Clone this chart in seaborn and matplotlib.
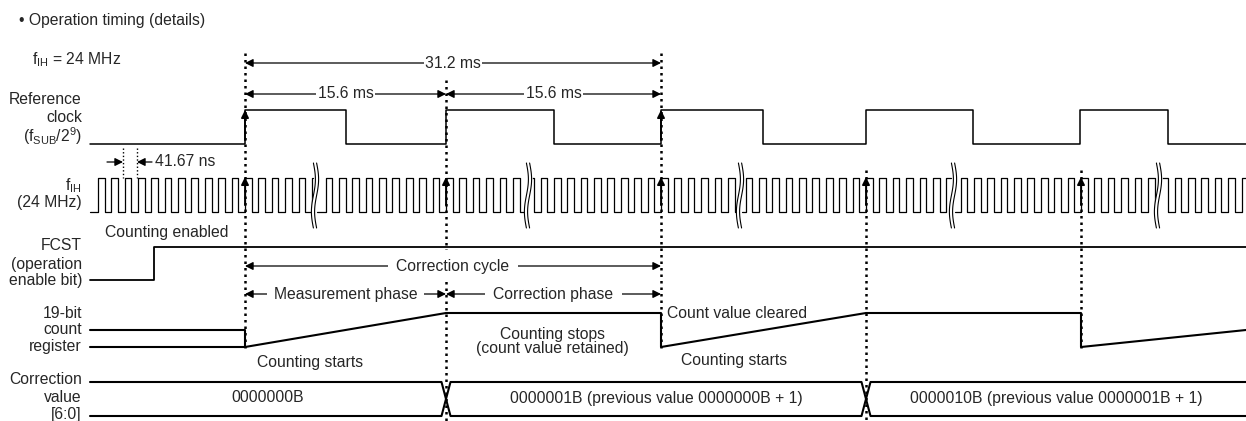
import numpy as np
import pandas as pd
import seaborn as sns
import matplotlib.pyplot as plt

# ---- timing data (x = position along the time axis of the drawing) ----
t_start, t_end = 90, 1246

# reference clock fSUB/2^9: edge times and logic levels
ref_t = [90, 245, 346, 446, 554, 661, 763, 866, 973, 1080, 1168, 1246]
ref_v = [0, 1, 0, 1, 0, 1, 0, 1, 0, 1, 0, 0]

# fIH = 24 MHz clock: period, edges synced to the reference clock, break marks
fih_period = 13.38
fih_sync = [245, 446, 661, 866, 1081]
fih_breaks = [315, 528, 740, 953, 1158]

# FCST operation enable bit
fcst_t = [90, 154, 1246]
fcst_v = [0, 1, 1]

# 19-bit count register (0 = cleared, 1 = value at end of measurement)
cnt_t = [90, 245, 245, 446, 661, 661, 866, 1081, 1081, 1246]
cnt_v = [0.5, 0.5, 0, 1, 1, 0, 1, 1, 0, 0.5]
cnt_low_t = [90, 245]
cnt_low_v = [0, 0]

# correction value [6:0] bus
bus_change = [446, 866]
bus_text = ["0000000B",
            "0000001B (previous value 0000000B + 1)",
            "0000010B (previous value 0000001B + 1)"]

# ---- layout: baseline (low level) and height of each row, in pixels ----
rows = {"ref": (144, 34), "fih": (212, 34), "fcst": (280, 33),
        "cnt": (347, 34), "bus": (416, 34)}


def row_y(row, v):
    base, h = rows[row]
    return [base - h * x for x in v]


def steps(t, v):
    xs, ys = [t[0]], [v[0]]
    for i in range(1, len(t)):
        xs += [t[i], t[i]]
        ys += [v[i - 1], v[i]]
    return xs, ys


def clock(a, b, s, p):
    edges = []
    for k in range(int((a - s) // p) - 1, int((b - s) // p) + 2):
        for e in (s + k * p, s + k * p + p / 2):
            if a + 3 < e < b:
                edges.append(e)
    edges.sort()
    ph = (edges[0] - s) % p
    lvl = 0 if (ph < 0.01 or ph > p - 0.01) else 1
    xs, ys = [a], [lvl]
    for e in edges:
        xs += [e, e]
        ys += [lvl, 1 - lvl]
        lvl = 1 - lvl
    xs.append(b)
    ys.append(lvl)
    return xs, ys


frames = []


def add(name, xs, ys, lw):
    frames.append(pd.DataFrame({"x": xs, "y": ys, "trace": name, "lw": lw}))


x, y = steps(ref_t, ref_v)
add("ref", x, row_y("ref", y), 1.1)

bounds = [t_start] + fih_breaks + [t_end]
for i in range(len(bounds) - 1):
    a = bounds[i] + (0 if i == 0 else 2)
    b = bounds[i + 1] - (0 if i == len(bounds) - 2 else 2)
    s = fih_sync[min(i, len(fih_sync) - 1)]
    x, y = clock(a, b, s, fih_period)
    add(f"fih{i}", x, row_y("fih", y), 0.9)

x, y = steps(fcst_t, fcst_v)
add("fcst", x, row_y("fcst", y), 1.3)

add("cnt", cnt_t, row_y("cnt", cnt_v), 1.5)
add("cnt_low", cnt_low_t, row_y("cnt", cnt_low_v), 1.5)

hw = 4.5
bus_x = [t_start]
for c in bus_change:
    bus_x += [c - hw, c + hw]
bus_x.append(t_end)
lvl_a = [1, 1, 0, 0, 1, 1]
lvl_b = [0, 0, 1, 1, 0, 0]
add("bus_a", bus_x, row_y("bus", lvl_a), 1.5)
add("bus_b", bus_x, row_y("bus", lvl_b), 1.5)

df = pd.concat(frames, ignore_index=True)

# ---- figure ----
sns.set_theme(style="white")
plt.rcParams["font.family"] = ["Liberation Sans", "DejaVu Sans"]
plt.rcParams["mathtext.fontset"] = "custom"
plt.rcParams["mathtext.rm"] = "Liberation Sans"
plt.rcParams["mathtext.it"] = "Liberation Sans:italic"

fig = plt.figure(figsize=(12.46, 4.21), dpi=100)
ax = fig.add_axes([0, 0, 1, 1])
ax.set_xlim(0, 1246)
ax.set_ylim(421, 0)
ax.axis("off")

for lw, grp in df.groupby("lw"):
    sns.lineplot(data=grp, x="x", y="y", units="trace", estimator=None,
                 sort=False, color="black", lw=lw, legend=False, ax=ax, zorder=3)

# dotted sync lines
dots = [(245, 53, 352), (446, 80, 421), (661, 53, 352), (866, 170, 421),
        (1081, 170, 352), (123, 148, 178), (137, 148, 178)]
for xx, y0, y1 in dots:
    lw = 1.8 if xx > 200 else 1.0
    ax.plot([xx, xx], [y0, y1], color="black", lw=lw, ls=(0, (1, 1.6)), zorder=2)

# break marks on fIH
yy = np.linspace(163, 228, 60)
for bx in fih_breaks:
    wig = 2.0 * np.sin((yy - 163) / 65 * 2 * np.pi)
    ax.fill_betweenx(yy, bx - 1.6 + wig, bx + 1.6 + wig, color="white", zorder=4)
    ax.plot(bx - 1.6 + wig, yy, color="black", lw=0.8, zorder=5)
    ax.plot(bx + 1.6 + wig, yy, color="black", lw=0.8, zorder=5)

# upward arrows on synced edges
arrow = dict(arrowstyle="-|>", color="black", lw=1.3, mutation_scale=11,
             shrinkA=0, shrinkB=0)
for xx in fih_sync:
    ax.annotate("", xy=(xx, 177), xytext=(xx, 205), arrowprops=arrow, zorder=6)
for xx in [245, 661]:
    ax.annotate("", xy=(xx, 110), xytext=(xx, 140), arrowprops=arrow, zorder=6)

fs = 11.3
dim = dict(arrowstyle="<|-|>", color="black", lw=0.9, mutation_scale=12,
           shrinkA=0, shrinkB=0)


def dimension(x0, x1, yv, label, pad=1.0, xc=None):
    ax.annotate("", xy=(x0, yv), xytext=(x1, yv), arrowprops=dim, zorder=6)
    ax.text((x0 + x1) / 2 if xc is None else xc, yv, label, ha="center",
            va="center", fontsize=fs, zorder=7,
            bbox=dict(fc="white", ec="none", pad=pad))


dimension(245, 661, 63, "31.2 ms")
dimension(245, 446, 94, "15.6 ms")
dimension(446, 661, 94, "15.6 ms")
dimension(245, 661, 266, "Correction cycle", pad=6)
dimension(245, 446, 294, "Measurement phase", pad=5)
dimension(446, 661, 294, "Correction phase", pad=6)

# 41.67 ns period marker
small = dict(arrowstyle="-|>", color="black", lw=0.9, mutation_scale=12,
             shrinkA=0, shrinkB=0)
ax.annotate("", xy=(123, 162), xytext=(107, 162), arrowprops=small)
ax.annotate("", xy=(137, 162), xytext=(152, 162), arrowprops=small)
ax.text(155, 162, "41.67 ns", ha="left", va="center", fontsize=fs)

# signal names
labels = [("Reference", 100), ("clock", 118), (r"(f$_{\mathrm{SUB}}$/2$^{9}$)", 136),
          (r"f$_{\mathrm{IH}}$", 186), ("(24 MHz)", 202),
          ("FCST", 246), ("(operation", 264), ("enable bit)", 280),
          ("19-bit", 314), ("count", 330), ("register", 347),
          ("Correction", 379), ("value", 398), ("[6:0]", 415)]
for txt, yv in labels:
    ax.text(82, yv, txt, ha="right", va="center", fontsize=fs)

ax.text(19, 21, "\u2022 Operation timing (details)", ha="left", va="center", fontsize=fs)
ax.text(32, 60, r"f$_{\mathrm{IH}}$ = 24 MHz", ha="left", va="center", fontsize=fs)

# annotations
ax.text(105, 232, "Counting enabled", ha="left", va="center", fontsize=fs)
ax.text(257, 363, "Counting starts", ha="left", va="center", fontsize=fs)
ax.text(552, 334, "Counting stops", ha="center", va="center", fontsize=fs)
ax.text(552, 349, "(count value retained)", ha="center", va="center", fontsize=fs)
ax.text(667, 313, "Count value cleared", ha="left", va="center", fontsize=fs,
        bbox=dict(fc="white", ec="none", pad=0.5))
ax.text(681, 361, "Counting starts", ha="left", va="center", fontsize=fs)

# bus values
edges = [t_start] + bus_change + [t_end]
for i, txt in enumerate(bus_text):
    ax.text((edges[i] + edges[i + 1]) / 2, 398, txt, ha="center", va="center", fontsize=fs)

fig.savefig("out.png", dpi=100)
